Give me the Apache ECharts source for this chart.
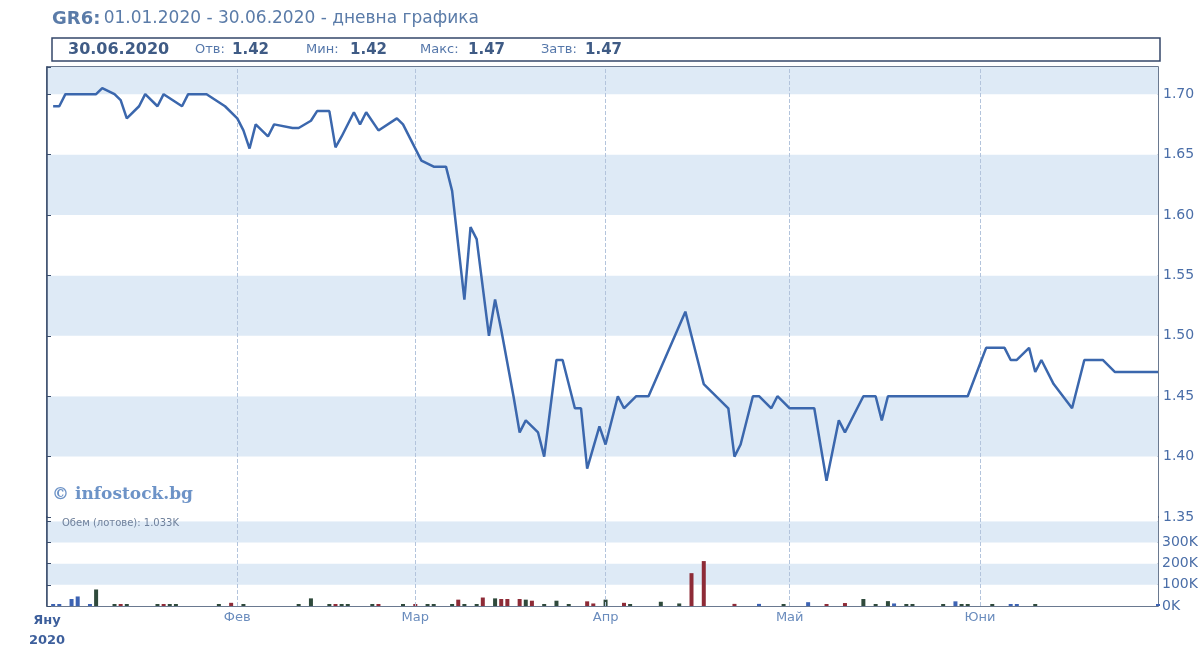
<!DOCTYPE html>
<html><head><meta charset="utf-8">
<script src="https://cdn.jsdelivr.net/npm/echarts@6.0.0/dist/echarts.min.js"></script>
<style>html,body{margin:0;padding:0;background:#fff}#c{width:1204px;height:651px}</style>
</head><body><div id="c"></div>
<script>
// ---- data ----
const monthStarts = ['2020-01-01','2020-02-01','2020-03-01','2020-04-01','2020-05-01','2020-06-01'];
const monthLabels = ['Яну','Фев','Мар','Апр','Май','Юни'];
const yearLabel = '2020';

const priceDates = ['2020-01-02','2020-01-03','2020-01-04','2020-01-09','2020-01-10','2020-01-12','2020-01-13','2020-01-14','2020-01-16','2020-01-17',
'2020-01-19','2020-01-20','2020-01-23','2020-01-24','2020-01-27','2020-01-30','2020-02-01','2020-02-02','2020-02-03','2020-02-04',
'2020-02-06','2020-02-07','2020-02-10','2020-02-11','2020-02-13','2020-02-14','2020-02-16','2020-02-17','2020-02-18','2020-02-20',
'2020-02-21','2020-02-22','2020-02-24','2020-02-27','2020-02-28','2020-03-02','2020-03-04','2020-03-06','2020-03-07','2020-03-09',
'2020-03-10','2020-03-11','2020-03-13','2020-03-14','2020-03-15','2020-03-17','2020-03-18','2020-03-19','2020-03-21','2020-03-22',
'2020-03-24','2020-03-25','2020-03-27','2020-03-28','2020-03-29','2020-03-31','2020-04-01','2020-04-03','2020-04-04','2020-04-06',
'2020-04-08','2020-04-14','2020-04-16','2020-04-17','2020-04-21','2020-04-22','2020-04-23','2020-04-25','2020-04-26','2020-04-28',
'2020-04-29','2020-05-01','2020-05-05','2020-05-07','2020-05-09','2020-05-10','2020-05-12','2020-05-13','2020-05-15','2020-05-16',
'2020-05-17','2020-05-30','2020-06-02','2020-06-05','2020-06-06','2020-06-07','2020-06-09','2020-06-10','2020-06-11','2020-06-13',
'2020-06-16','2020-06-18','2020-06-21','2020-06-23','2020-06-30'];
const priceValues = [1.69,1.69,1.70,1.70,1.705,1.70,1.695,1.68,1.69,1.70,
1.69,1.70,1.69,1.70,1.70,1.69,1.68,1.67,1.655,1.675,
1.665,1.675,1.672,1.672,1.678,1.686,1.686,1.656,1.665,1.685,
1.675,1.685,1.67,1.68,1.675,1.645,1.64,1.64,1.62,1.53,
1.59,1.58,1.50,1.53,1.505,1.45,1.42,1.43,1.42,1.40,
1.48,1.48,1.44,1.44,1.39,1.425,1.41,1.45,1.44,1.45,
1.45,1.52,1.48,1.46,1.44,1.40,1.41,1.45,1.45,1.44,
1.45,1.44,1.44,1.38,1.43,1.42,1.44,1.45,1.45,1.43,
1.45,1.45,1.49,1.49,1.48,1.48,1.49,1.47,1.48,1.46,
1.44,1.48,1.48,1.47,1.47];

const volDates = ['2020-01-02','2020-01-03','2020-01-05','2020-01-06','2020-01-08','2020-01-09','2020-01-12','2020-01-13','2020-01-14','2020-01-19',
'2020-01-20','2020-01-21','2020-01-22','2020-01-29','2020-01-31','2020-02-02','2020-02-11','2020-02-13','2020-02-16','2020-02-17',
'2020-02-18','2020-02-19','2020-02-23','2020-02-24','2020-02-28','2020-03-01','2020-03-03','2020-03-04','2020-03-07','2020-03-08',
'2020-03-09','2020-03-11','2020-03-12','2020-03-14','2020-03-15','2020-03-16','2020-03-18','2020-03-19','2020-03-20','2020-03-22',
'2020-03-24','2020-03-26','2020-03-29','2020-03-30','2020-04-01','2020-04-04','2020-04-05','2020-04-10','2020-04-13','2020-04-15',
'2020-04-17','2020-04-22','2020-04-26','2020-04-30','2020-05-04','2020-05-07','2020-05-10','2020-05-13','2020-05-15','2020-05-17',
'2020-05-18','2020-05-20','2020-05-21','2020-05-26','2020-05-28','2020-05-29','2020-05-30','2020-06-03','2020-06-06','2020-06-07',
'2020-06-10','2020-06-30'];
const volK = [3,3,33,45,4,78,5,5,5,3,
3,3,3,3,15,6,5,36,4,4,
4,4,3,4,2,3,2,3,3,30,
3,5,40,36,33,33,33,30,25,8,
25,4,22,12,30,15,4,20,12,155,
212,10,10,4,18,4,14,33,6,23,
12,4,3,3,22,5,3,3,5,5,
3,1.033];
const volDir = ['flat','flat','flat','flat','flat','up','up','down','up','up',
'down','up','up','up','down','up','up','up','up','down',
'up','up','up','down','up','down','up','up','up','down',
'up','up','down','up','down','down','down','up','down','up',
'up','up','down','down','up','down','up','up','up','down',
'down','down','flat','up','flat','down','down','up','up','up',
'flat','up','up','up','flat','up','up','up','flat','flat',
'up','flat'];

// ---- helpers ----
function dayIdx(s){const p=s.split('-').map(Number);return (Date.UTC(p[0],p[1]-1,p[2])-Date.UTC(2020,0,1))/864e5;}
const dirColor = {up:'#2f4a3c', down:'#8e2b37', flat:'#3d63b3'};
const monthIdx = monthStarts.map(dayIdx);
const endIdx = dayIdx('2020-06-30');
const blueTxt = '#5577aa';

const chart = echarts.init(document.getElementById('c'), null, {renderer:'canvas'});
const monthLines = {
  silent:true, symbol:'none', label:{show:false},
  lineStyle:{type:'dashed', color:'#b3c4dc', width:1},
  data: monthIdx.slice(1).map(v=>({xAxis:v}))
};
const xCommon = {type:'value', min:monthIdx[0], max:endIdx, splitLine:{show:false}, axisLine:{show:false}, axisTick:{show:false}};

chart.setOption({
  animation:false,
  backgroundColor:'#ffffff',
  grid:[
    {left:47, right:46, top:67, height:450, show:true, borderColor:'#3a4d6c', borderWidth:1.5, backgroundColor:'transparent'},
    {left:47, right:46, top:517, height:89, show:true, borderColor:'#3a4d6c', borderWidth:1.5, backgroundColor:'transparent'}
  ],
  xAxis:[
    Object.assign({gridIndex:0, axisLabel:{show:false}}, xCommon),
    Object.assign({gridIndex:1, axisLabel:{
      show:true, customValues:monthIdx, showMinLabel:true, showMaxLabel:true, margin:5,
      fontFamily:'DejaVu Sans', fontSize:13, color:'#6a8cbd',
      formatter:function(v){const i=monthIdx.indexOf(v); if(i===0) return '{b|'+monthLabels[0]+'}\n{b|'+yearLabel+'}'; return i>0?monthLabels[i]:'';},
      rich:{b:{fontFamily:'DejaVu Sans', fontWeight:'bold', fontSize:13, color:'#3d5f9c', lineHeight:20}}
    }}, xCommon)
  ],
  yAxis:[
    {gridIndex:0, type:'value', position:'right', min:1.35, max:1.7225, interval:0.05,
     axisLine:{show:true, lineStyle:{color:'#3a4d6c', width:1.5}},
     axisTick:{show:true, inside:false, length:4, lineStyle:{color:'#3a4d6c'}},
     axisLabel:{margin:5, color:'#4a6ea8', fontFamily:'DejaVu Sans', fontSize:14,
       formatter:function(v){return Math.abs(v*20-Math.round(v*20))<1e-6 ? v.toFixed(2) : '';}},
     splitLine:{show:false},
     splitArea:{show:true, areaStyle:{color:['#ffffff','#deeaf6']}}},
    {gridIndex:1, type:'value', position:'right', min:0, max:420000, interval:100000,
     axisLine:{show:true, lineStyle:{color:'#3a4d6c', width:1.5}},
     axisTick:{show:true, inside:false, length:4, lineStyle:{color:'#3a4d6c'}},
     axisLabel:{margin:4, color:'#4a6ea8', fontFamily:'DejaVu Sans', fontSize:14,
       formatter:function(v){return v<=300000 ? (v/1000)+'K' : '';}},
     splitLine:{show:false},
     splitArea:{show:true, areaStyle:{color:['#ffffff','#deeaf6']}}}
  ],
  series:[
    {type:'line', xAxisIndex:0, yAxisIndex:0, showSymbol:false, z:5,
     lineStyle:{color:'#3b67ad', width:2.5}, itemStyle:{color:'#3b67ad'},
     data: priceDates.map((d,i)=>[dayIdx(d), priceValues[i]]),
     markLine: monthLines},
    {type:'bar', xAxisIndex:1, yAxisIndex:1, barWidth:4, barMinHeight:2,
     data: volDates.map((d,i)=>({value:[dayIdx(d), volK[i]*1000], itemStyle:{color:dirColor[volDir[i]]}})),
     markLine: monthLines}
  ],
  graphic:[
    {type:'text', left:52, top:10, style:{text:'{a|GR6:} {b|01.01.2020 - 30.06.2020 - дневна графика}',
      rich:{a:{fontFamily:'DejaVu Sans', fontWeight:'bold', fontSize:18, fill:'#5a7ba8'},
            b:{fontFamily:'DejaVu Sans', fontSize:17, fill:'#5a7ba8'}}}},
    {type:'rect', shape:{x:52, y:38, width:1108, height:23}, style:{fill:'#ffffff', stroke:'#34476a', lineWidth:1.5}},
    {type:'text', x:68, y:50, style:{text:'30.06.2020', font:'bold 16px "DejaVu Sans"', fill:'#3f5b85', verticalAlign:'middle'}},
    {type:'text', x:195, y:50, style:{text:'Отв:', font:'13px "DejaVu Sans"', fill:blueTxt, verticalAlign:'middle'}},
    {type:'text', x:232, y:50, style:{text:'1.42', font:'bold 15px "DejaVu Sans"', fill:'#3f5b85', verticalAlign:'middle'}},
    {type:'text', x:306, y:50, style:{text:'Мин:', font:'13px "DejaVu Sans"', fill:blueTxt, verticalAlign:'middle'}},
    {type:'text', x:350, y:50, style:{text:'1.42', font:'bold 15px "DejaVu Sans"', fill:'#3f5b85', verticalAlign:'middle'}},
    {type:'text', x:420, y:50, style:{text:'Макс:', font:'13px "DejaVu Sans"', fill:blueTxt, verticalAlign:'middle'}},
    {type:'text', x:468, y:50, style:{text:'1.47', font:'bold 15px "DejaVu Sans"', fill:'#3f5b85', verticalAlign:'middle'}},
    {type:'text', x:541, y:50, style:{text:'Затв:', font:'13px "DejaVu Sans"', fill:blueTxt, verticalAlign:'middle'}},
    {type:'text', x:585, y:50, style:{text:'1.47', font:'bold 15px "DejaVu Sans"', fill:'#3f5b85', verticalAlign:'middle'}},
    {type:'text', x:52, y:495, z:10, style:{text:'© infostock.bg', font:'bold 17px "DejaVu Serif"', fill:'#6d93c7', verticalAlign:'middle'}},
    {type:'text', x:62, y:523, z:10, style:{text:'Обем (лотове): 1.033K', font:'10px "DejaVu Sans"', fill:'#6f819c', verticalAlign:'middle'}}
  ]
});
</script></body></html>
